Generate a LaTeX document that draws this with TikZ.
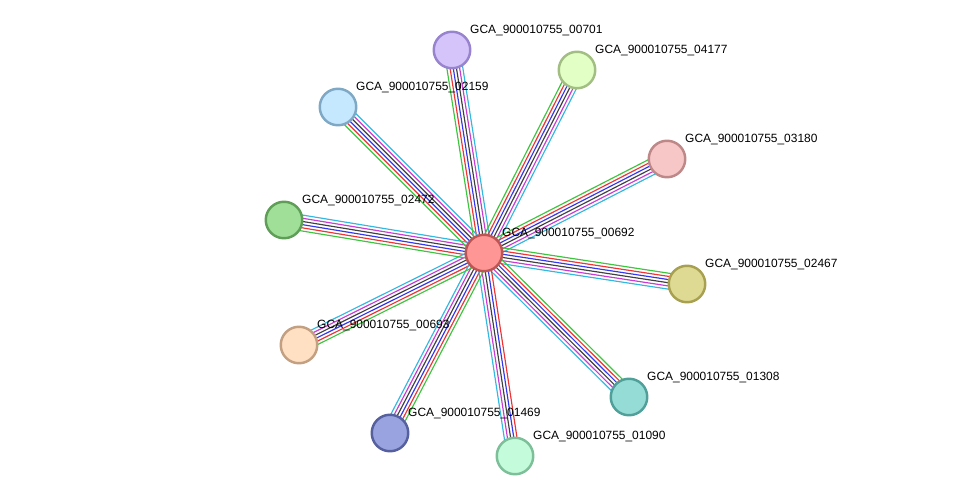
\documentclass[tikz,border=0pt]{standalone}
\usepackage{fontspec}
\setmainfont{Liberation Sans}
\usetikzlibrary{calc,backgrounds}

% evidence channel colours
\definecolor{evGreen}{RGB}{62,196,62}
\definecolor{evRed}{RGB}{238,52,52}
\definecolor{evBlue}{RGB}{52,56,236}
\definecolor{evBlack}{RGB}{64,64,64}
\definecolor{evMagenta}{RGB}{200,60,212}
\definecolor{evCyan}{RGB}{52,184,224}

\tikzset{
  prot/.style={circle, draw, line width=2.1pt, minimum size=1.095cm, inner sep=0pt},
  plabel/.style={anchor=base west, inner sep=0pt, font=\fontsize{10.2}{12}\selectfont},
  evline/.style={line width=1pt}
}

\begin{document}
\begin{tikzpicture}[x=0.03cm, y=-0.03cm]
	\useasboundingbox (0,0) rectangle (975,501);
	% proteins
	\node [prot, fill={rgb,255:red,255;green,150;blue,150}, draw={rgb,255:red,190;green,85;blue,85}] (p00692) at (484,253) {};
	\node [prot, fill={rgb,255:red,213;green,196;blue,250}, draw={rgb,255:red,152;green,132;blue,206}] (p00701) at (452,50) {};
	\node [prot, fill={rgb,255:red,226;green,255;blue,198}, draw={rgb,255:red,162;green,190;blue,130}] (p04177) at (577,70) {};
	\node [prot, fill={rgb,255:red,197;green,232;blue,255}, draw={rgb,255:red,126;green,168;blue,196}] (p02159) at (338,107) {};
	\node [prot, fill={rgb,255:red,247;green,198;blue,198}, draw={rgb,255:red,190;green,136;blue,136}] (p03180) at (667,159) {};
	\node [prot, fill={rgb,255:red,159;green,223;blue,151}, draw={rgb,255:red,94;green,158;blue,87}] (p02472) at (284,220) {};
	\node [prot, fill={rgb,255:red,223;green,218;blue,147}, draw={rgb,255:red,166;green,160;blue,80}] (p02467) at (687,284) {};
	\node [prot, fill={rgb,255:red,255;green,224;blue,195}, draw={rgb,255:red,194;green,160;blue,129}] (p00693) at (299,345) {};
	\node [prot, fill={rgb,255:red,149;green,220;blue,214}, draw={rgb,255:red,81;green,159;blue,153}] (p01308) at (629,397) {};
	\node [prot, fill={rgb,255:red,152;green,163;blue,224}, draw={rgb,255:red,86;green,96;blue,159}] (p01469) at (390,433) {};
	\node [prot, fill={rgb,255:red,196;green,251;blue,219}, draw={rgb,255:red,125;green,191;blue,152}] (p01090) at (515,456) {};
	% edges, one line per evidence channel
	\begin{pgfonlayer}{background}
		\foreach \n in {00701,04177,02159,03180,02472,02467,00693,01308,01469,01090} {
			\foreach \o/\c in {4.05pt/evRed, 1.35pt/evBlue, -1.35pt/evBlack, -4.05pt/evMagenta, -6.75pt/evCyan}
				\draw [evline, \c] ($(p00692.center)!\o!90:(p\n.center)$) -- ($(p\n.center)!\o!-90:(p00692.center)$);
		}
		% no neighbourhood line towards 01090
		\foreach \n in {00701,04177,02159,03180,02472,02467,00693,01308,01469}
			\draw [evline, evGreen] ($(p00692.center)!6.75pt!90:(p\n.center)$) -- ($(p\n.center)!6.75pt!-90:(p00692.center)$);
	\end{pgfonlayer}
	% labels
	\foreach \n/\x/\y in {00692/484/253, 00701/452/50, 04177/577/70, 02159/338/107, 03180/667/159, 02472/284/220, 02467/687/284, 00693/299/345, 01308/629/397, 01469/390/433, 01090/515/456}
		\node [plabel] (l\n) at (\x+18,\y-16.8) {GCA\_900010755\_\n};
\end{tikzpicture}
\end{document}
